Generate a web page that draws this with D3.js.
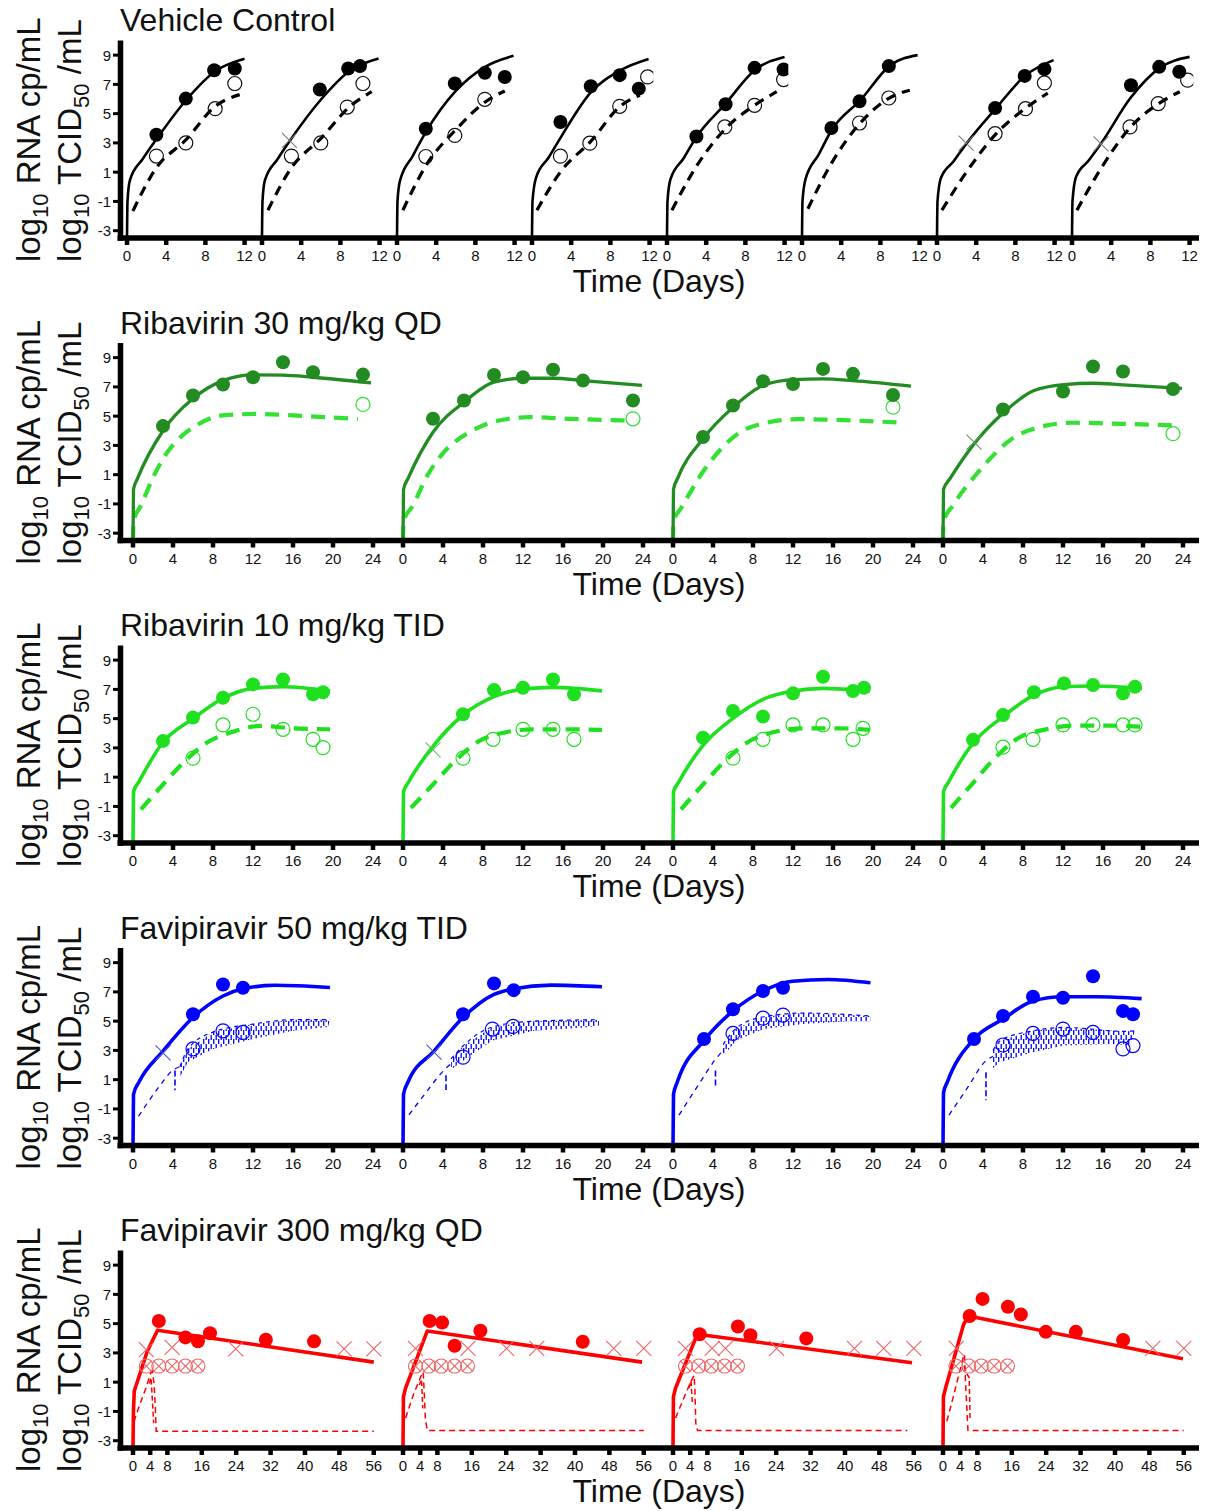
<!DOCTYPE html>
<html><head><meta charset="utf-8">
<script src="https://cdn.jsdelivr.net/npm/d3@7"></script>
<style>body{margin:0;background:#fff;} svg{display:block;font-family:"Liberation Sans",Arial,sans-serif;}</style>
</head><body><svg id="c" width="1210" height="1511"></svg>
<script>
// ---------------- DATA ----------------
const rowTitles = ["Vehicle Control","Ribavirin 30 mg/kg QD","Ribavirin 10 mg/kg TID","Favipiravir 50 mg/kg TID","Favipiravir 300 mg/kg QD"];
const yTicks = [9,7,5,3,1,-1,-3];
const xTicksVehicle = [0,4,8,12];
const xTicksRibavirin = [0,4,8,12,16,20,24];
const xTicksFav300 = [0,4,8,16,24,32,40,48,56];

// Vehicle control (8 animals)
const vehSolid = [
 [[0,-3.5],[0.05,-1],[0.3,0.45],[1.6,1.9],[3,3.25],[6,5.9],[9,7.9],[12,8.75]],
 [[0,-3.5],[0.05,-1],[0.3,0.45],[1.6,1.9],[3,3.3],[6,5.95],[9,7.95],[11.9,8.77]],
 [[0,-3.5],[0.05,-1],[0.3,0.4],[1.6,2.1],[3,3.8],[6,6.55],[9,8.2],[11.9,8.95]],
 [[0,-3.5],[0.05,-1],[0.4,0.6],[1.7,2.0],[3,3.45],[6,6.45],[9,7.95],[11.9,8.73]],
 [[0,-3.5],[0.05,-1],[0.35,0.5],[1.7,1.95],[3,3.4],[6,5.7],[9,8.0],[12,8.88]],
 [[0,-3.5],[0.05,-1],[0.35,0.5],[1.7,2.2],[3,3.85],[6,5.95],[9,8.3],[11.8,9.0]],
 [[0,-3.5],[0.05,-1],[0.4,0.6],[1.7,1.75],[3,2.95],[6,5.35],[9,7.6],[11.9,8.66]],
 [[0,-3.5],[0.05,-1],[0.4,0.65],[1.7,1.8],[3,3.0],[6,6.1],[9,8.15],[12,8.88]]
];
const vehDashed = [
 [[0.6,-1.65],[3,1.3],[6,3.2],[9,5.5],[11.5,6.3]],
 [[0.6,-1.6],[3,1.3],[6,3.3],[9,5.5],[11.2,6.5]],
 [[0.6,-1.6],[3,1.5],[6,3.9],[9,5.8],[11,6.55]],
 [[0.5,-1.6],[3,1.1],[6,3.1],[9,5.5],[11,6.26]],
 [[0.5,-1.6],[3,1.4],[6,4.0],[9,5.6],[11.2,6.5]],
 [[0.6,-1.5],[3,1.6],[6,4.4],[9,6.1],[11,6.6]],
 [[0.5,-1.6],[3,1.0],[6,3.6],[9,5.35],[11.3,6.4]],
 [[0.5,-1.6],[3,1.3],[6,4.1],[9,5.75],[11,6.5]]
];
const vehFilled = [
 [[3,3.56],[6,6.03],[8.9,7.97],[11,8.09]],
 [[5.9,6.65],[8.8,8.09],[10,8.25]],
 [[2.94,3.97],[5.9,7.06],[8.97,7.79],[11,7.51]],
 [[2.9,4.43],[6,6.87],[8.95,7.63],[10.9,6.71]],
 [[3,3.44],[5.98,5.64],[8.94,8.13],[11.9,8.02]],
 [[3,4.02],[5.87,5.84],[8.86,8.25]],
 [[5.93,5.39],[8.95,7.58],[10.96,8.04]],
 [[6.02,6.94],[8.9,8.2],[10.95,7.86]]
];
const vehOpen = [
 [[3,2.1],[6,3.0],[9,5.34],[11,7.06]],
 [[3,2.1],[6,3.0],[8.7,5.45],[10.3,7.06]],
 [[2.94,2.07],[5.9,3.51],[8.96,5.98]],
 [[2.9,2.09],[5.9,2.98],[8.95,5.5],[11.8,7.51]],
 [[5.9,4.09],[8.94,5.57],[11.9,7.33]],
 [[5.87,4.36],[8.86,6.07]],
 [[5.93,3.63],[9.03,5.34],[10.96,7.1]],
 [[5.92,4.09],[8.8,5.69],[11.8,7.29]]
];
const vehCross = [[],[[2.8,3.17]],[],[],[],[],[[2.97,2.99]],[[2.96,2.94]]];

// Ribavirin 30 mg/kg QD
const rib30Solid = [
 [[0,-3.5],[0.05,0],[0.45,0.73],[3,4.0],[6,6.2],[9,7.43],[12,7.82],[15,7.8],[18,7.66],[23.8,7.27]],
 [[0,-3.5],[0.05,0],[0.5,0.73],[3,3.9],[6.1,5.95],[9.1,7.32],[12,7.59],[15,7.59],[18,7.43],[23.9,7.1]],
 [[0,-3.5],[0.05,0],[0.45,0.73],[3,3.45],[6,5.6],[9,7.1],[12,7.5],[15,7.55],[18,7.43],[23.8,7.05]],
 [[0,-3.5],[0.05,0],[0.7,0.73],[3.1,3.1],[6.1,5.27],[9.1,6.75],[12.1,7.16],[15,7.25],[18,7.14],[23.9,6.9]]
];
const rib30Dashed = [
 [[0,-3.5],[0.05,-2.2],[0.8,-1.1],[2,0.8],[3.2,2.3],[4.5,3.4],[6.3,4.35],[9,5.05],[12.5,5.15],[16,5.05],[22.5,4.8]],
 [[0,-3.5],[0.05,-2.2],[1,-1.1],[2.4,0.9],[3.8,2.3],[6.9,4.0],[9.6,4.7],[12.7,4.93],[16.5,4.82],[22.7,4.7]],
 [[0,-3.5],[0.05,-2.2],[0.8,-1.3],[3.2,1.4],[6.3,3.7],[9.7,4.6],[12.5,4.8],[15.9,4.75],[23,4.55]],
 [[0,-3.5],[0.05,-2.2],[1,-1.1],[3.8,1.4],[6.9,3.45],[9.6,4.25],[13,4.55],[16.5,4.5],[23.5,4.36]]
];
const rib30Filled = [
 [[3,4.32],[6,6.41],[9,7.16],[12,7.66],[15,8.68],[18,8.0],[23,7.84]],
 [[3,4.82],[6.1,6.07],[9.1,7.82],[12,7.66],[15,8.18],[18,7.43],[23,6.07]],
 [[3,3.57],[6,5.73],[9,7.39],[12,7.2],[15,8.23],[18,7.89],[22,6.45]],
 [[6,5.45],[12,6.68],[15,8.39],[18,8.05],[23,6.86]]
];
const rib30Open = [[[23,5.8]],[[23,4.82]],[[22,5.61]],[[23,3.8]]];
const rib30Cross = [[],[],[],[[3.1,3.23]]];

// Ribavirin 10 mg/kg TID
const rib10Solid = [
 [[0,-3.5],[0.05,0],[0.6,0.7],[2.9,3.3],[6,5.0],[9,6.39],[12,7.07],[15,7.18],[19.7,6.89]],
 [[0,-3.5],[0.05,0],[0.5,0.6],[3,3.1],[6,5.25],[9.1,6.5],[12,7.02],[15,7.14],[19.9,6.9]],
 [[0,-3.5],[0.05,0],[0.6,0.7],[2.9,3.09],[6,5.02],[9,6.32],[12,6.89],[15,7.07],[19.7,6.89]],
 [[0,-3.5],[0.05,0],[0.5,0.6],[3,3.32],[6,5.14],[9.1,6.6],[12,7.18],[15,7.23],[19.9,7.07]]
];
const rib10Dashed = [
 [[0.8,-1.2],[3,0.5],[4.9,1.9],[7.3,3.32],[10,4.1],[12.8,4.5],[15.9,4.34],[19.7,4.27]],
 [[0.8,-1.1],[3,0.5],[4.9,1.9],[7.5,3.43],[10.3,4.07],[13,4.27],[16.5,4.27],[19.9,4.23]],
 [[0.8,-1.2],[3,0.5],[4.9,1.9],[7.3,3.32],[10,4.07],[13.2,4.34],[16.6,4.34],[19.7,4.23]],
 [[0.8,-1.1],[3,0.6],[4.9,2.1],[7.5,3.66],[10.3,4.27],[13,4.52],[16.5,4.52],[19.9,4.45]]
];
const rib10Filled = [
 [[3,3.48],[6,5.07],[9,6.43],[12,7.34],[15,7.68],[18,6.66],[19,6.8]],
 [[6,5.3],[9.1,6.95],[12,7.11],[15,7.68],[17.1,6.66]],
 [[3,3.7],[6,5.52],[9,5.14],[12,6.73],[15,7.86],[18,6.89],[19.1,7.11]],
 [[3,3.55],[6,5.25],[9.1,6.8],[12.1,7.41],[15,7.3],[18,6.73],[19.2,7.18]]
];
const rib10Open = [
 [[6,2.3],[9,4.57],[12,5.3],[15,4.27],[18,3.59],[19,3.02]],
 [[6,2.3],[9,3.59],[12,4.27],[15,4.27],[17.1,3.59]],
 [[6,2.3],[9,3.59],[12,4.57],[15,4.57],[18,3.59],[19,4.34]],
 [[6,3.05],[9,3.59],[12,4.57],[15,4.57],[18,4.57],[19.2,4.57]]
];
const rib10Cross = [[],[[3,2.86]],[],[]];

// Favipiravir 50 mg/kg TID
const fav50Solid = [
 [[0,-3.5],[0.05,0],[0.6,0.84],[3,2.95],[6,5.25],[9,6.72],[11,7.21],[14.2,7.45],[19.7,7.3]],
 [[0,-3.5],[0.05,0],[0.5,0.84],[3.1,2.95],[6,5.25],[9.1,6.83],[11.07,7.21],[14.8,7.46],[19.9,7.35]],
 [[0,-3.5],[0.05,0],[0.43,0.84],[3.1,3.67],[6,5.7],[9,7.06],[11.95,7.73],[15.5,7.85],[19.75,7.62]],
 [[0,-3.5],[0.05,0.1],[0.43,0.84],[3.1,3.78],[6,5.14],[9,6.38],[12,6.67],[15.3,6.67],[19.86,6.54]]
];
const fav50Dashed = [
 [[0.55,-1.5],[2.7,0.6],[3.9,1.6],[4.7,1.9]],
 [[0.6,-1.4],[2.5,0.3],[3.9,1.5],[4.8,2.1]],
 [[0.6,-1.42],[2.5,0.6],[4.15,2.3],[5,3.0]],
 [[0.6,-1.42],[2.5,0.5],[4.15,2.2],[5,2.6]]
];
const fav50BandUpper = [
 [[4.7,1.9],[5.5,3.1],[8,4.25],[12,4.8],[16,5.1],[19.7,5.1]],
 [[4.8,2.42],[6,3.3],[8.94,4.6],[13.1,5.0],[19.6,5.1]],
 [[5,3.4],[6.3,4.5],[9.1,5.3],[13,5.55],[19.75,5.35]],
 [[5,3.0],[5.75,3.67],[9,4.34],[12.1,4.57],[18.2,4.3],[19.2,4.34]]
];
const fav50BandLower = [
 [[4.7,1.2],[5.5,2.2],[8,3.1],[12,3.78],[16,4.34],[19.5,4.6]],
 [[4.8,1.7],[6,2.3],[8.94,3.67],[13.1,4.34],[18.2,4.57],[19.6,4.7]],
 [[5,2.6],[6.3,3.67],[9.1,4.46],[13,4.8],[17.6,5.0],[19.75,5.0]],
 [[5,1.8],[5.75,2.2],[9,2.88],[12.1,3.33],[17.1,3.44],[18.7,3.33]]
];
const fav50Spike = [[4.2,1.63,0.28],[4.3,1.3,0.3],[4.25,1.63,0.6],[4.3,1.5,-0.4]];
const fav50Filled = [
 [[6,5.47],[9,7.51],[11,7.28]],
 [[6,5.47],[9.1,7.58],[11.07,7.12]],
 [[3.1,3.78],[6,5.81],[9,7.06],[11,7.28]],
 [[3.1,3.78],[6,5.36],[9,6.67],[12,6.6],[15,8.07],[18,5.7],[19,5.47]]
];
const fav50Open = [
 [[6,3.1],[9,4.34],[11,4.23]],
 [[6,2.54],[8.94,4.46],[11,4.64]],
 [[6,4.16],[9,5.2],[11,5.41]],
 [[6,3.37],[9,4.16],[12,4.46],[15,4.23],[18,3.1],[19,3.33]]
];
const fav50Cross = [[[3,2.83]],[[3.1,2.88]],[],[]];

// Favipiravir 300 mg/kg QD
const fav300Solid = [
 [[0,-3.5],[0.1,-1],[0.3,0.4],[3.3,3.1],[5.7,4.55],[56,2.37]],
 [[0,-3.5],[0.1,0],[0.6,0.6],[5.65,4.5],[55.6,2.37]],
 [[0,-3.5],[0.1,0],[0.6,0.6],[5.65,4.28],[55.6,2.33]],
 [[0,-3.5],[0.1,0],[0.6,0.6],[4.8,4.96],[5.95,5.52],[55.8,2.6]]
];
const fav300Dashed = [
 [[0.2,-1.7],[1.5,-0.6],[3,0.6],[4.1,1.6],[4.5,1.75],[4.9,0.9],[5.2,-0.8],[5.4,-2.35],[56,-2.35]],
 [[0.6,-1.45],[2.5,0.2],[4.1,1.36],[4.7,1.7],[4.9,0.5],[5.2,-1.5],[5.65,-2.3],[56,-2.3]],
 [[0.6,-1.45],[2.5,-0.1],[4.1,1.0],[4.9,1.47],[5.1,0.5],[5.3,-1.8],[5.7,-2.3],[54.5,-2.3]],
 [[0.9,-1.67],[2.5,0.12],[4.8,2.8],[5.0,2.9],[5.2,1.25],[5.5,-0.5],[5.8,-2.3],[56,-2.3]]
];
const fav300DashedExtra = [
 [[3.8,0.9],[4.2,1.3],[4.5,-0.2],[4.8,-1.8]],
 [[3.8,0.8],[4.3,1.2],[4.6,-0.8]],
 [[3.7,0.6],[4.2,1.1],[4.5,-0.5]],
 [[4.9,2.1],[5.5,1.6],[6.1,1.3],[6.3,-1.6]]
];
const fav300Filled = [
 [[6,5.18],[12.2,4.06],[15.1,3.79],[17.9,4.35],[30.9,3.9],[42.1,3.79]],
 [[6.2,5.18],[9.1,5.07],[12,3.49],[18,4.51],[41.8,3.76]],
 [[6.2,4.28],[15.1,4.8],[18,4.21],[31,3.99]],
 [[6.2,5.52],[9.2,6.69],[15.1,6.15],[18.1,5.63],[23.9,4.44],[30.9,4.44],[41.9,3.88]]
];
const fav300Cross = [
 [[3.1,3.22],[9.1,3.38],[23.9,3.27],[49.1,3.27],[56,3.27]],
 [[2.9,3.31],[15.1,3.31],[24.1,3.31],[31.1,3.31],[49,3.31],[56,3.31]],
 [[2.9,3.31],[9.1,3.31],[12.2,3.31],[24.1,3.31],[42.2,3.31],[49,3.31],[56,3.31]],
 [[3.1,3.31],[48.8,3.31],[56,3.31]]
];
const fav300CircleCross = [
 [[3.1,2.1],[6,2.1],[9.1,2.1],[12.2,2.1],[15.1,2.1]],
 [[2.9,2.1],[6,2.1],[8.9,2.1],[12,2.1],[15,2.1]],
 [[2.9,2.1],[6,2.1],[8.9,2.1],[12,2.1],[15,2.1]],
 [[3,2.1],[6,2.1],[8.9,2.1],[11.9,2.1],[15,2.1]]
];

// ---------------- BUILD ----------------
const rows = [
 {n:8, xDomain:[-0.408,13.37], clipMax:12.38, xTicks:xTicksVehicle, curve:d3.curveMonotoneX,
  solid:vehSolid, dashed:vehDashed, filled:vehFilled, open:vehOpen, cross:vehCross,
  st:{solid:"#000",solidW:2.6,dash:"#000",dashW:3.2,dashArr:"10,7",fill:"#000",open:"#111",cross:"#7a7a7a"}},
 {n:4, xDomain:[-1,26], clipMax:26, xTicks:xTicksRibavirin, curve:d3.curveMonotoneX,
  solid:rib30Solid, dashed:rib30Dashed, filled:rib30Filled, open:rib30Open, cross:rib30Cross,
  st:{solid:"#228b22",solidW:3.3,dash:"#33e033",dashW:4.2,dashArr:"14,9",fill:"#228b22",open:"#33e033",cross:"#5f9a5f"}},
 {n:4, xDomain:[-1,26], clipMax:26, xTicks:xTicksRibavirin, curve:d3.curveMonotoneX,
  solid:rib10Solid, dashed:rib10Dashed, filled:rib10Filled, open:rib10Open, cross:rib10Cross,
  st:{solid:"#1ee01e",solidW:3.6,dash:"#1ee01e",dashW:4.2,dashArr:"14,9",fill:"#1ee01e",open:"#1ee01e",cross:"#66bb66"}},
 {n:4, xDomain:[-1,26], clipMax:26, xTicks:xTicksRibavirin, curve:d3.curveMonotoneX,
  solid:fav50Solid, dashed:fav50Dashed, filled:fav50Filled, open:fav50Open, cross:fav50Cross,
  bandU:fav50BandUpper, bandL:fav50BandLower, spike:fav50Spike,
  st:{solid:"#0000ff",solidW:3.6,dash:"#0000ff",dashW:1.3,dashArr:"5,5",fill:"#0000ff",open:"#0000ff",cross:"#4a55cc"}},
 {n:4, xDomain:[-2.326,60.47], clipMax:60.47, xTicks:xTicksFav300, curve:d3.curveLinear,
  solid:fav300Solid, dashed:fav300Dashed, dashedExtra:fav300DashedExtra, filled:fav300Filled, open:null,
  cross:fav300Cross, ox:fav300CircleCross,
  st:{solid:"#ff0000",solidW:3.6,dash:"#ff0000",dashW:1.5,dashArr:"6,4",fill:"#ff0000",open:"#ff0000",cross:"#f06464"}}
];

const W=1210, H=1511, LEFT=123, TOTAL=1080, ROWH=302.5, R=7;
const svg = d3.select("#c");
svg.append("rect").attr("width",W).attr("height",H).attr("fill","#fff");
const defs = svg.append("defs");
const pat = defs.append("pattern").attr("id","favBand").attr("patternUnits","userSpaceOnUse").attr("width",5).attr("height",9);
pat.append("line").attr("x1",1.2).attr("x2",1.2).attr("y1",0).attr("y2",5).attr("stroke","#0000ff").attr("stroke-width",1.3);
pat.append("line").attr("x1",3.7).attr("x2",3.7).attr("y1",4).attr("y2",9).attr("stroke","#0000ff").attr("stroke-width",1.3);

function crossPath(cx,cy,h){return `M${cx-h},${cy-h}L${cx+h},${cy+h}M${cx-h},${cy+h}L${cx+h},${cy-h}`;}

rows.forEach((row,r)=>{
  const top = r*ROWH;
  const y = d3.scaleLinear().domain([-3.5,10]).range([top+238, top+40.5]);
  const pw = TOTAL/row.n;
  const st = row.st;

  svg.append("text").attr("x",120).attr("y",top+31).attr("font-size",32).attr("fill","#111").text(rowTitles[r]);

  for(let k=0;k<row.n;k++){
    const x = d3.scaleLinear().domain(row.xDomain).range([LEFT+k*pw, LEFT+(k+1)*pw]);
    const cid = `clip-${r}-${k}`;
    defs.append("clipPath").attr("id",cid).append("rect")
      .attr("x",x(row.xDomain[0])).attr("y",top+30)
      .attr("width",x(row.clipMax)-x(row.xDomain[0])).attr("height",y(-3.5)-top-30);
    const pg = svg.append("g").attr("clip-path",`url(#${cid})`);
    const line = d3.line().x(d=>x(d[0])).y(d=>y(d[1])).curve(row.curve);
    const lin = d3.line().x(d=>x(d[0])).y(d=>y(d[1]));

    if(row.bandU){
      const poly = row.bandU[k].concat(row.bandL[k].slice().reverse());
      pg.append("path").attr("d",lin(poly)+"Z").attr("fill","url(#favBand)").attr("stroke","none");
      pg.append("path").attr("d",line(row.bandU[k])).attr("fill","none").attr("stroke",st.dash)
        .attr("stroke-width",1.2).attr("stroke-dasharray","4,4");
      const sp = row.spike[k];
      pg.append("line").attr("x1",x(sp[0])).attr("x2",x(sp[0])).attr("y1",y(sp[1])).attr("y2",y(sp[2]))
        .attr("stroke",st.dash).attr("stroke-width",1.6).attr("stroke-dasharray","6,3");
    }
    pg.append("path").attr("d",line(row.dashed[k])).attr("fill","none").attr("stroke",st.dash)
      .attr("stroke-width",st.dashW).attr("stroke-dasharray",st.dashArr);
    if(row.dashedExtra){
      pg.append("path").attr("d",lin(row.dashedExtra[k])).attr("fill","none").attr("stroke",st.dash)
        .attr("stroke-width",st.dashW).attr("stroke-dasharray","5,3");
    }
    pg.append("path").attr("d",line(row.solid[k])).attr("fill","none").attr("stroke",st.solid)
      .attr("stroke-width",st.solidW).attr("stroke-linejoin","round");

    if(row.ox){
      row.ox[k].forEach(d=>{
        pg.append("circle").attr("cx",x(d[0])).attr("cy",y(d[1])).attr("r",R).attr("fill","none").attr("stroke",st.cross).attr("stroke-width",1.1);
        pg.append("path").attr("d",crossPath(x(d[0]),y(d[1]),5.5)).attr("stroke",st.cross).attr("stroke-width",1.1).attr("fill","none");
      });
    }
    row.cross[k].forEach(d=>{
      pg.append("path").attr("d",crossPath(x(d[0]),y(d[1]),7.5)).attr("stroke",st.cross).attr("stroke-width",1.1).attr("fill","none");
    });
    if(row.open){
      row.open[k].forEach(d=>{
        pg.append("circle").attr("cx",x(d[0])).attr("cy",y(d[1])).attr("r",R).attr("fill","none").attr("stroke",st.open).attr("stroke-width",1.2);
      });
    }
    row.filled[k].forEach(d=>{
      pg.append("circle").attr("cx",x(d[0])).attr("cy",y(d[1])).attr("r",R).attr("fill",st.fill);
    });

    const ax = svg.append("g");
    row.xTicks.forEach(t=>{
      ax.append("line").attr("x1",x(t)).attr("x2",x(t)).attr("y1",y(-3.5)).attr("y2",y(-3.5)+7)
        .attr("stroke","#000").attr("stroke-width",4.5);
      ax.append("text").attr("x",x(t)).attr("y",top+261).attr("text-anchor","middle")
        .attr("font-size",15).attr("fill","#111").text(t);
    });
  }

  svg.append("line").attr("x1",117.5).attr("x2",1199).attr("y1",y(-3.5)).attr("y2",y(-3.5))
    .attr("stroke","#000").attr("stroke-width",5.5);
  svg.append("line").attr("x1",120.5).attr("x2",120.5).attr("y1",y(10)).attr("y2",y(-3.5)+2.7)
    .attr("stroke","#000").attr("stroke-width",5.5);
  yTicks.forEach(t=>{
    svg.append("line").attr("x1",113).attr("x2",118).attr("y1",y(t)).attr("y2",y(t)).attr("stroke","#000").attr("stroke-width",3);
    svg.append("text").attr("x",111).attr("y",y(t)).attr("dy","0.36em").attr("text-anchor","end")
      .attr("font-size",15).attr("fill","#111").text(t);
  });

  svg.append("text").attr("x",659).attr("y",top+292).attr("text-anchor","middle").attr("font-size",32)
    .attr("fill","#111").text("Time (Days)");

  const yl1 = svg.append("text").attr("transform",`translate(40,${top+262}) rotate(-90)`).attr("font-size",33).attr("fill","#111");
  yl1.append("tspan").text("log");
  yl1.append("tspan").attr("font-size",22).attr("dy",8).text("10");
  yl1.append("tspan").attr("dy",-8).text(" RNA cp/mL");
  const yl2 = svg.append("text").attr("transform",`translate(81,${top+262}) rotate(-90)`).attr("font-size",33).attr("fill","#111");
  yl2.append("tspan").text("log");
  yl2.append("tspan").attr("font-size",22).attr("dy",8).text("10");
  yl2.append("tspan").attr("dy",-8).text(" TCID");
  yl2.append("tspan").attr("font-size",22).attr("dy",8).text("50");
  yl2.append("tspan").attr("dy",-8).text(" /mL");
});
</script></body></html>
